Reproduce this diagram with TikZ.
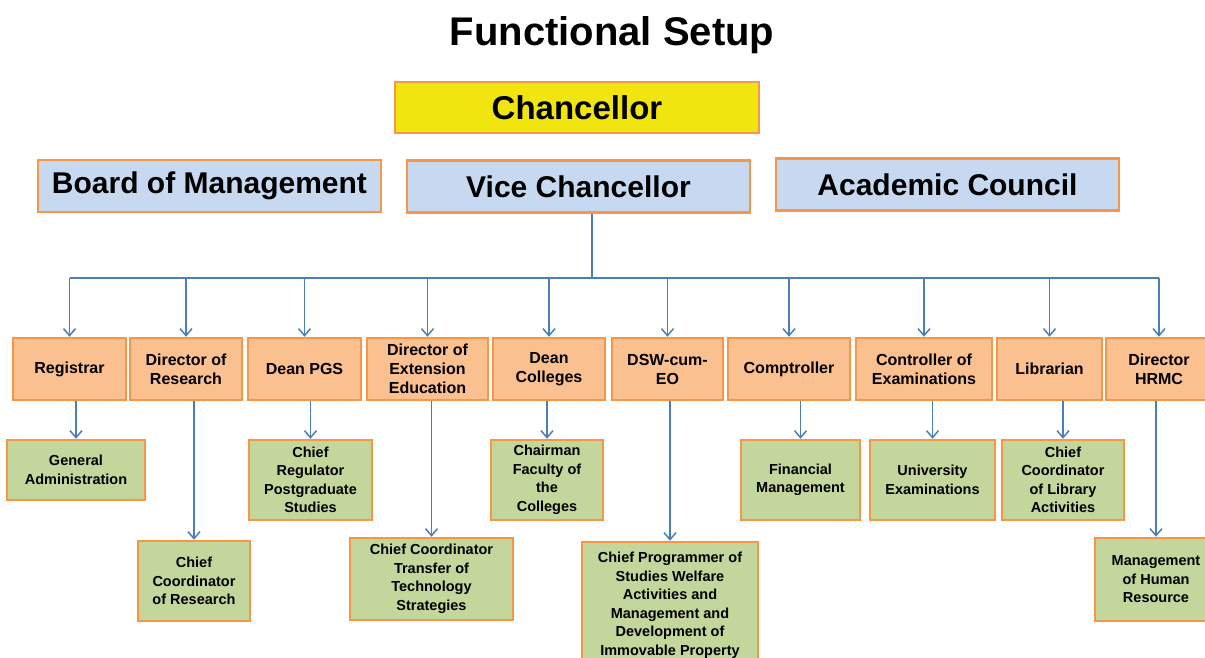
\documentclass[tikz,border=0pt]{standalone}
\usepackage{fontspec}
\setmainfont{Liberation Sans}
\usetikzlibrary{arrows.meta}

\definecolor{edgeorange}{HTML}{F79646}
\definecolor{chanyellow}{HTML}{F0E50F}
\definecolor{headblue}{HTML}{C6D9F1}
\definecolor{offorange}{HTML}{FAC090}
\definecolor{unitgreen}{HTML}{C3D69B}
\definecolor{linkblue}{HTML}{4A7EBB}

\tikzset{
  head/.style={draw=edgeorange, line width=2.5pt, fill=headblue, minimum width=343pt, minimum height=52pt, font=\bfseries\fontsize{30}{36}\selectfont},
  officer/.style={draw=edgeorange, line width=2.5pt, fill=offorange, minimum height=62pt, align=center, inner sep=1pt, font=\bfseries\fontsize{16}{19}\selectfont},
  unit/.style={draw=edgeorange, line width=2.5pt, fill=unitgreen, align=center, inner sep=1pt, font=\bfseries\fontsize{14.5}{18.5}\selectfont},
  link/.style={draw=linkblue, line width=1.5pt, -{Straight Barb[length=7pt,width=12pt]}}
}

\begin{document}
\begin{tikzpicture}[x=1pt, y=1pt]
  \useasboundingbox (0, 0) rectangle (1205, -657);

  \node (title) at (612, -35) [font=\bfseries\fontsize{40}{48}\selectfont]{Functional Setup};
  \node (chan) at (577, -107.5) [draw=edgeorange, line width=2.5pt, fill=chanyellow, minimum width=364pt, minimum height=51pt, font=\bfseries\fontsize{33}{40}\selectfont]{Chancellor};

  \node (bom) at (209.5, -186) [head]{Board of Management};
  \node (vc) at (578.5, -186.5) [head]{Vice Chancellor};
  \node (ac) at (947.5, -184.5) [head]{Academic Council};

  % officers under the vice chancellor
  \node (reg) at (69.5, -369) [officer, minimum width=113pt]{Registrar};
  \node (dor) at (186, -369) [officer, minimum width=112pt]{Director of\\Research};
  \node (pgs) at (304.5, -369) [officer, minimum width=113pt]{Dean PGS};
  \node (dee) at (427.5, -369) [officer, minimum width=121pt]{Director of\\Extension\\Education};
  \node (dcol) at (549, -369) [officer, minimum width=112pt]{Dean\\Colleges};
  \node (dsw) at (667.5, -369) [officer, minimum width=111pt]{DSW-cum-\\EO};
  \node (comp) at (789, -369) [officer, minimum width=122pt]{Comptroller};
  \node (coe) at (924, -369) [officer, minimum width=136pt]{Controller of\\Examinations};
  \node (lib) at (1049.5, -369) [officer, minimum width=105pt]{Librarian};
  \node (hrmc) at (1159, -369) [officer, minimum width=106pt]{Director\\HRMC};

  % units
  \node (gadm) at (76, -470) [unit, minimum width=138pt, minimum height=60pt]{General\\Administration};
  \node (ccr) at (194, -581) [unit, minimum width=112pt, minimum height=80pt]{Chief\\Coordinator\\of Research};
  \node (crps) at (310.5, -480) [unit, minimum width=123pt, minimum height=80pt]{Chief\\Regulator\\Postgraduate\\Studies};
  \node (cctt) at (431.5, -579) [unit, minimum width=163pt, minimum height=82pt]{Chief Coordinator\\Transfer of\\Technology\\Strategies};
  \node (cfc) at (547, -480) [unit, minimum width=112pt, minimum height=80pt]{Chairman\\Faculty of\\the\\Colleges};
  \node (cpsw) at (670, -605) [unit, minimum width=176pt, minimum height=126pt]{Chief Programmer of\\Studies Welfare\\Activities and\\Management and\\Development of\\Immovable Property};
  \node (fin) at (800.5, -480) [unit, minimum width=119pt, minimum height=80pt]{Financial\\Management};
  \node (uex) at (932.5, -480) [unit, minimum width=125pt, minimum height=80pt]{University\\Examinations};
  \node (ccla) at (1063, -480) [unit, minimum width=122pt, minimum height=80pt]{Chief\\Coordinator\\of Library\\Activities};
  \node (mhr) at (1156, -579.5) [unit, minimum width=122pt, minimum height=83pt]{Management\\of Human\\Resource};

  \coordinate (bus) at (592, -278);
  \draw[draw=linkblue, line width=1.5pt] (vc.south -| bus) -- (bus);
  \draw[draw=linkblue, line width=1.5pt] (reg.north |- bus) -- (hrmc.north |- bus);
  \foreach \o in {reg, dor, pgs, dee, dcol, dsw, comp, coe, lib, hrmc}
    \draw[link] (\o.north |- bus) -- (\o.north);

  \draw[link] (gadm.north |- reg.south) -- (gadm.north);
  \draw[link] (ccr.north |- dor.south) -- (ccr.north);
  \draw[link] (crps.north |- pgs.south) -- (crps.north);
  \draw[link] (cctt.north |- dee.south) -- (cctt.north);
  \draw[link] (cfc.north |- dcol.south) -- (cfc.north);
  \draw[link] (cpsw.north |- dsw.south) -- (cpsw.north);
  \draw[link] (fin.north |- comp.south) -- (fin.north);
  \draw[link] (uex.north |- coe.south) -- (uex.north);
  \draw[link] (ccla.north |- lib.south) -- (ccla.north);
  \draw[link] (mhr.north |- hrmc.south) -- (mhr.north);
\end{tikzpicture}
\end{document}
